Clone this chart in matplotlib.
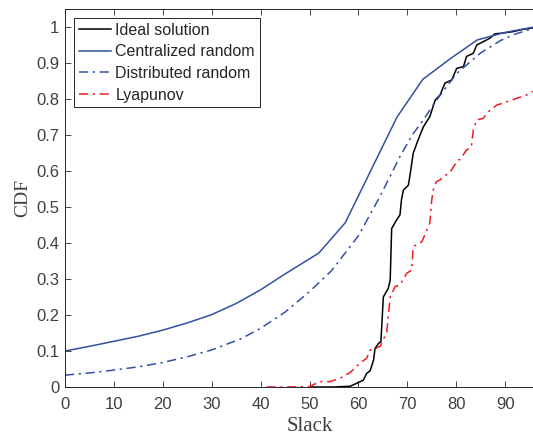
import matplotlib.pyplot as plt
import numpy as np

# CDF of slack for each scheduling scheme
central_x = [0, 5, 10, 15, 20, 25, 30, 35, 40, 45, 51.9, 57.3, 62.6, 67.9, 73.2, 78.8, 84.3, 90, 96]
central_y = [0.1, 0.113, 0.127, 0.141, 0.158, 0.178, 0.201, 0.232, 0.27, 0.314, 0.372, 0.456, 0.603,
             0.75, 0.855, 0.912, 0.964, 0.985, 1.0]

distrib_x = [0, 5, 10, 15, 20, 25, 30, 36, 40, 45, 50, 54.5, 60, 64.4, 68.5, 71, 73.3, 75.7, 80.1,
             84.9, 89, 92, 96]
distrib_y = [0.033, 0.039, 0.047, 0.056, 0.068, 0.084, 0.103, 0.134, 0.163, 0.208, 0.265, 0.323,
             0.42, 0.529, 0.64, 0.7, 0.742, 0.792, 0.871, 0.927, 0.962, 0.98, 0.997]

ideal_x = [50, 55, 58.3, 59.6, 61.0, 61.7, 62.4, 63.1, 63.4, 64.1, 64.6, 65.1, 66.1, 66.5, 66.8,
           67.8, 68.5, 68.8, 69.2, 70.2, 70.5, 70.9, 71.2, 72.2, 73.3, 74.6, 75.7, 76.7, 77.7,
           79.1, 80.1, 81.5, 82.1, 83.5, 84.2, 85.5, 86.9, 87.9, 89.5, 91.6, 93.5, 96]
ideal_y = [0.0, 0.0, 0.002, 0.01, 0.019, 0.038, 0.045, 0.075, 0.107, 0.121, 0.126, 0.25, 0.274,
           0.297, 0.44, 0.464, 0.478, 0.52, 0.547, 0.56, 0.584, 0.62, 0.649, 0.686, 0.723, 0.751,
           0.797, 0.811, 0.844, 0.853, 0.885, 0.89, 0.918, 0.927, 0.95, 0.959, 0.969, 0.981,
           0.983, 0.987, 0.993, 0.998]

lyap_x = [41.2, 45, 50, 52.1, 54.2, 56.2, 58.3, 60.3, 61.7, 62.4, 63.1, 64.1, 64.4, 65.8, 66.5,
          67.5, 68.5, 69.9, 70.9, 71.2, 73.0, 74.0, 74.6, 75.0, 75.3, 75.9, 76.7, 77.3, 78.6,
          80.4, 80.7, 82.1, 83.1, 83.5, 84.2, 85.5, 86.9, 88.3, 90.3, 92.4, 94.4, 95.4, 97]
lyap_y = [0.0, 0.0, 0.001, 0.015, 0.015, 0.024, 0.04, 0.066, 0.08, 0.103, 0.103, 0.112, 0.112,
          0.152, 0.25, 0.279, 0.283, 0.316, 0.325, 0.39, 0.404, 0.436, 0.455, 0.52, 0.547, 0.57,
          0.575, 0.584, 0.594, 0.631, 0.631, 0.658, 0.667, 0.714, 0.742, 0.746, 0.769, 0.783,
          0.792, 0.802, 0.811, 0.82, 0.822]

blue = "#3350A3"
red = "#EE1C25"
ink = "#262626"
label_ink = "#404040"

fig = plt.figure(figsize=(5.33, 4.36), dpi=100)
ax = fig.add_axes([0.122, 0.1124, 0.9174, 0.867])

ax.plot(ideal_x, ideal_y, color="black", lw=1.1, label="Ideal solution")
ax.plot(central_x, central_y, color=blue, lw=1.1, label="Centralized random")
ax.plot(distrib_x, distrib_y, color=blue, lw=1.1, dashes=(6, 3, 1.5, 3), label="Distributed random")
ax.plot(lyap_x, lyap_y, color=red, lw=1.1, dashes=(6, 3, 1.5, 3), label="Lyapunov")

ax.set_xlim(0, 100)
ax.set_ylim(0, 1.05)
ax.set_xticks(np.arange(0, 91, 10))
ax.set_yticks(np.arange(0, 1.01, 0.1))
ax.set_yticklabels(["0", "0.1", "0.2", "0.3", "0.4", "0.5", "0.6", "0.7", "0.8", "0.9", "1"])
ax.tick_params(direction="in", length=4, width=0.6, colors=ink, labelsize=12,
               top=True, right=True, labelcolor=label_ink)
ax.tick_params(axis="x", pad=7)
ax.tick_params(axis="y", pad=4)
for lab in ax.get_xticklabels() + ax.get_yticklabels():
    lab.set_family("Liberation Sans")
for sp in ax.spines.values():
    sp.set_color(ink)
    sp.set_linewidth(0.7)

ax.set_xlabel("Slack", family="Liberation Serif", fontsize=15, color=label_ink, labelpad=4)
ax.set_ylabel("CDF", family="Liberation Serif", fontsize=14, color=label_ink, labelpad=4)

leg = ax.legend(loc="upper left", bbox_to_anchor=(0.0, 1.0), prop={"family": "Liberation Sans", "size": 11.5},
                frameon=True, fancybox=False, edgecolor=ink, framealpha=1, borderpad=0.3,
                handlelength=2.0, handletextpad=0.3, labelspacing=0.42, borderaxespad=0.55)
leg.get_frame().set_linewidth(0.7)
for t in leg.get_texts():
    t.set_color(ink)

fig.savefig("out.png", dpi=100)
